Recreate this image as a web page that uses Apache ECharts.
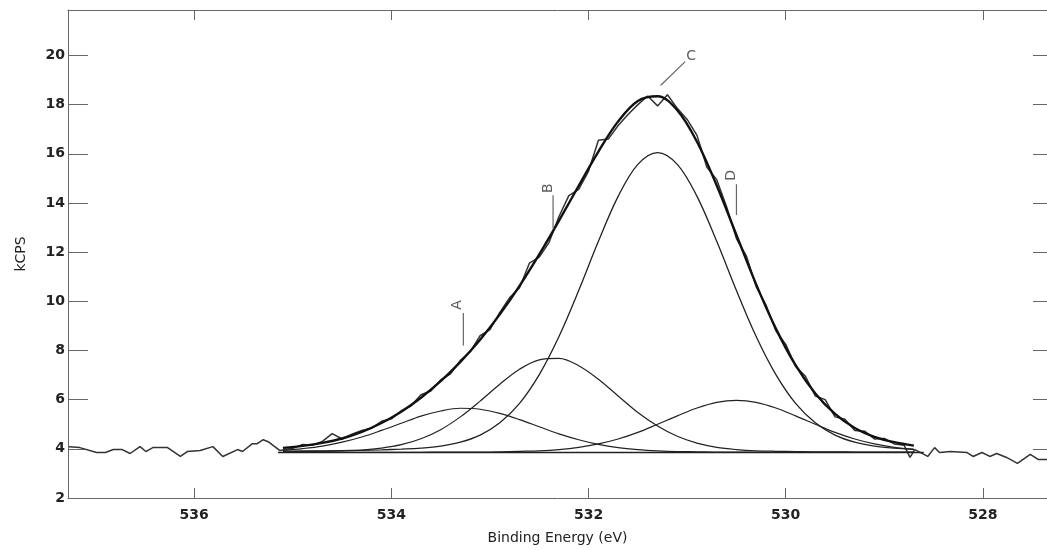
<!DOCTYPE html>
<html>
<head>
<meta charset="utf-8">
<script src="https://cdn.jsdelivr.net/npm/echarts@6/dist/echarts.min.js"></script>
<style>
	html, body { margin: 0; padding: 0; background: #fff; }
	#chart { width: 1047px; height: 550px; }
</style>
</head>
<body>
<div id="chart"></div>
<script>
// tick labels
var xTicks = [528, 530, 532, 534, 536];
var yTicks = [2, 4, 6, 8, 10, 12, 14, 16, 18, 20];

// raw spectrum
var rawEnergy = [537.27, 537.16, 536.99, 536.90, 536.82, 536.73, 536.65, 536.55, 536.49, 536.42, 536.27, 536.14, 536.07, 535.94, 535.81, 535.71, 535.56, 535.51, 535.41, 535.36, 535.30, 535.25, 535.13,
	535.0, 534.9, 534.8, 534.7, 534.6, 534.5, 534.4, 534.3, 534.2, 534.1, 534.0, 533.9, 533.8, 533.7, 533.6, 533.5, 533.4, 533.3, 533.2, 533.1, 533.0,
	532.9, 532.8, 532.7, 532.6, 532.5, 532.4, 532.3, 532.2, 532.1, 532.0, 531.9, 531.8, 531.7, 531.6, 531.5, 531.4, 531.3, 531.2, 531.1, 531.0,
	530.9, 530.8, 530.7, 530.6, 530.5, 530.4, 530.3, 530.2, 530.1, 530.0, 529.9, 529.8, 529.7, 529.6, 529.5, 529.4, 529.3, 529.2, 529.1, 529.0,
	528.9, 528.8, 528.74, 528.69, 528.56, 528.49, 528.44, 528.33, 528.16, 528.10, 528.01, 527.93, 527.86, 527.76, 527.65, 527.52, 527.44, 527.35];
var rawCounts = [4.08, 4.05, 3.85, 3.85, 3.97, 3.97, 3.81, 4.09, 3.89, 4.05, 4.05, 3.69, 3.89, 3.93, 4.09, 3.69, 3.97, 3.89, 4.21, 4.21, 4.37, 4.29, 3.93,
	4.02, 4.18, 4.15, 4.30, 4.62, 4.40, 4.60, 4.75, 4.84, 5.12, 5.22, 5.55, 5.75, 6.20, 6.35, 6.80, 7.05, 7.60, 7.95, 8.60, 8.85,
	9.55, 10.15, 10.55, 11.55, 11.80, 12.40, 13.45, 14.30, 14.55, 15.30, 16.55, 16.60, 17.15, 17.60, 18.00, 18.35, 17.95, 18.40, 17.85, 17.40,
	16.75, 15.45, 14.95, 13.85, 12.55, 11.85, 10.60, 9.85, 8.80, 8.25, 7.35, 6.95, 6.15, 6.00, 5.30, 5.20, 4.75, 4.72, 4.40, 4.42,
	4.20, 4.15, 3.65, 3.97, 3.69, 4.05, 3.85, 3.89, 3.85, 3.69, 3.85, 3.69, 3.81, 3.65, 3.41, 3.77, 3.57, 3.57];

// fitted curves, sampled every 0.2 eV
var fitEnergy = [535.1, 534.9, 534.7, 534.5, 534.3, 534.1, 533.9, 533.7, 533.5, 533.3, 533.1, 532.9, 532.7, 532.5, 532.3, 532.1, 531.9,
	531.7, 531.5, 531.3, 531.1, 530.9, 530.7, 530.5, 530.3, 530.1, 529.9, 529.7, 529.5, 529.3, 529.1, 528.9, 528.7];
var peakA = [3.94, 4.01, 4.11, 4.27, 4.48, 4.75, 5.04, 5.33, 5.54, 5.65, 5.61, 5.44, 5.19, 4.90, 4.61, 4.37, 4.18,
	4.05, 3.97, 3.92, 3.89, 3.88, 3.87, 3.87, 3.86, 3.86, 3.86, 3.86, 3.86, 3.86, 3.86, 3.86, 3.86];
var peakB = [3.88, 3.89, 3.90, 3.92, 3.95, 4.03, 4.17, 4.41, 4.78, 5.30, 5.94, 6.63, 7.24, 7.62, 7.68, 7.38, 6.83,
	6.15, 5.48, 4.93, 4.51, 4.23, 4.06, 3.97, 3.92, 3.90, 3.89, 3.88, 3.88, 3.87, 3.87, 3.87, 3.87];
var peakC = [3.91, 3.92, 3.92, 3.93, 3.94, 3.96, 3.99, 4.03, 4.11, 4.27, 4.56, 5.06, 5.85, 7.02, 8.57, 10.44, 12.44,
	14.27, 15.57, 16.05, 15.57, 14.27, 12.44, 10.44, 8.57, 7.02, 5.85, 5.06, 4.56, 4.27, 4.11, 4.03, 3.99];
var peakD = [3.86, 3.86, 3.86, 3.86, 3.86, 3.86, 3.86, 3.86, 3.87, 3.87, 3.87, 3.88, 3.90, 3.92, 3.97, 4.06, 4.20,
	4.40, 4.67, 5.00, 5.34, 5.66, 5.89, 5.97, 5.89, 5.66, 5.34, 5.00, 4.67, 4.40, 4.20, 4.06, 3.97];
var envelope = [4.04, 4.12, 4.24, 4.42, 4.69, 5.05, 5.51, 6.08, 6.75, 7.54, 8.44, 9.47, 10.63, 11.91, 13.28, 14.70, 16.09,
	17.32, 18.15, 18.34, 17.77, 16.49, 14.71, 12.70, 10.69, 8.89, 7.40, 6.25, 5.42, 4.85, 4.49, 4.27, 4.13];

// linear background
var bgEnergy = [535.15, 528.6];
var bgCounts = [3.85, 3.85];

// peak labels and their leader lines (data coordinates)
var peakNames = ['A', 'B', 'C', 'D'];
var labelEnergy = [533.33, 532.41, 530.96, 530.55];
var labelCounts = [9.85, 14.6, 19.95, 15.12];
var leaderFrom = [[533.27, 9.53], [532.36, 14.31], [531.02, 19.75], [530.50, 14.76]];
var leaderTo = [[533.27, 8.20], [532.36, 12.95], [531.27, 18.78], [530.50, 13.51]];

var zip = function(xs, ys){
	var out = [];
	for (var i = 0; i < xs.length; i++) out.push([xs[i], ys[i]]);
	return out;
}

var FONT = '"DejaVu Sans", "Liberation Sans", Arial, sans-serif';

var fitLine = function(name, values, width, color){
	return {
		name: name,
		type: 'line',
		data: zip(fitEnergy, values),
		smooth: 0.35,
		showSymbol: false,
		lineStyle: { color: color, width: width },
		z: 3
	};
}

var series = [
	{
		name: 'raw',
		type: 'line',
		data: zip(rawEnergy, rawCounts),
		showSymbol: false,
		lineStyle: { color: '#333', width: 1.5 },
		z: 2
	},
	{
		name: 'background',
		type: 'line',
		data: zip(bgEnergy, bgCounts),
		showSymbol: false,
		lineStyle: { color: '#222', width: 1.4 },
		z: 3
	},
	fitLine('A', peakA, 1.2, '#222'),
	fitLine('B', peakB, 1.2, '#222'),
	fitLine('C', peakC, 1.3, '#222'),
	fitLine('D', peakD, 1.2, '#222'),
	fitLine('envelope', envelope, 2.4, '#111'),
	{
		name: 'labels',
		type: 'scatter',
		symbolSize: 0,
		data: peakNames.map(function(n, i){
			return {
				value: [labelEnergy[i], labelCounts[i]],
				label: { rotate: n == 'C' ? 0 : 90 }
			};
		}),
		label: {
			show: true,
			position: 'inside',
			formatter: function(p){ return peakNames[p.dataIndex]; },
			fontFamily: FONT,
			fontSize: 14,
			color: '#333'
		},
		z: 5
	}
];

for (var k = 0; k < leaderFrom.length; k++) {
	series.push({
		name: 'leader' + peakNames[k],
		type: 'line',
		data: [leaderFrom[k], leaderTo[k]],
		showSymbol: false,
		lineStyle: { color: '#666', width: 1.2 },
		z: 4
	});
}

var chart = echarts.init(document.getElementById('chart'));
chart.setOption({
	animation: false,
	backgroundColor: '#fff',
	grid: { left: 68, right: 0, top: 10, bottom: 46 },
	xAxis: [
		{
			type: 'value', inverse: true, min: 527.35, max: 537.28,
			name: 'Binding Energy (eV)', nameLocation: 'middle', nameGap: 33,
			nameTextStyle: { fontFamily: FONT, fontSize: 14, color: '#222' },
			axisLine: { show: true, lineStyle: { color: '#666' } },
			axisTick: { show: true, inside: true, length: 10, customValues: xTicks, lineStyle: { color: '#666' } },
			axisLabel: { customValues: xTicks, fontFamily: FONT, fontSize: 14, fontWeight: 'bold', color: '#222', margin: 10 },
			splitLine: { show: false }
		},
		{
			type: 'value', inverse: true, min: 527.35, max: 537.28, position: 'top',
			axisLine: { show: true, lineStyle: { color: '#666' } },
			axisTick: { show: true, inside: true, length: 10, customValues: xTicks, lineStyle: { color: '#666' } },
			axisLabel: { show: false },
			splitLine: { show: false }
		}
	],
	yAxis: [
		{
			type: 'value', min: 2, max: 21.85,
			name: 'kCPS', nameLocation: 'middle', nameGap: 40, nameRotate: 90,
			nameTextStyle: { fontFamily: FONT, fontSize: 14, color: '#222' },
			axisLine: { show: true, lineStyle: { color: '#666' } },
			axisTick: { show: true, inside: true, length: 20, customValues: yTicks, lineStyle: { color: '#666' } },
			axisLabel: { customValues: yTicks, fontFamily: FONT, fontSize: 14, fontWeight: 'bold', color: '#222', margin: 3 },
			splitLine: { show: false }
		},
		{
			type: 'value', min: 2, max: 21.85, position: 'right',
			axisLine: { show: false },
			axisTick: { show: true, inside: true, length: 14, customValues: yTicks, lineStyle: { color: '#666' } },
			axisLabel: { show: false },
			splitLine: { show: false }
		}
	],
	series: series
});
</script>
</body>
</html>
